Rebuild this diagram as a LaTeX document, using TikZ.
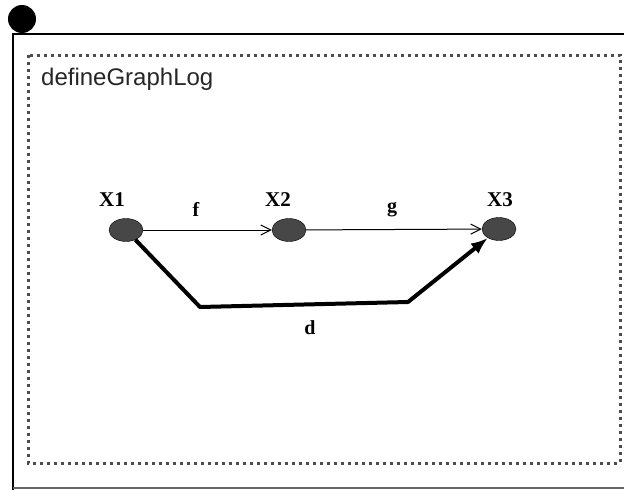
\documentclass[tikz,border=0pt]{standalone}
\usepackage{fontspec}
\setmainfont{Liberation Serif}
\setsansfont{Liberation Sans}
\usetikzlibrary{shapes.geometric,arrows.meta}

\begin{document}
\begin{tikzpicture}[x=1pt,y=-1pt,
 v/.style={draw=black,fill=black!72,ellipse,minimum width=34pt,minimum height=23pt,inner sep=0pt},
 vl/.style={font=\fontsize{21}{21}\selectfont\bfseries,inner sep=0pt},
 el/.style={font=\fontsize{20}{20}\selectfont\bfseries,inner sep=0pt},
 thinarr/.style={line width=1pt,-{Straight Barb[length=10pt,width=10pt]}},
 thickarr/.style={line width=4pt,line join=round,-{Latex[length=17pt,width=13pt]}}]
\useasboundingbox (0,0) rectangle (624,490);
% frame and dotted panel
\draw[line width=2pt] (13,490)--(13,34)--(624,34);
\draw[line width=1.5pt,black!60] (13,488)--(624,488);
\fill[black] (22,19) circle (14);
\draw[line width=3pt,black!70,dash pattern=on 3pt off 4pt] (28,55) rectangle (620,463);
\node[font=\sffamily\fontsize{24}{24}\selectfont,anchor=base west,inner sep=0pt,text=black!85](t) at (41,85){defineGraphLog};
% vertices
\node[v](x1) at (126,230){};
\node[v](x2) at (289,230){};
\node[v](x3) at (499,229){};
\node[vl](l1) at (112,200){X1};
\node[vl](l2) at (278,200){X2};
\node[vl](l3) at (500,200){X3};
% edges
\draw[thinarr](x1)--(x2);\draw[thinarr](x2)--(x3);
\coordinate (dl) at (200,307);\coordinate (dr) at (408,302);
\draw[thickarr](x1)--(dl)--(dr)--(x3);
\node[el](f) at (196,209){f};
\node[el](g) at (392,210){g};
\node[el](d) at (310,328){d};
\end{tikzpicture}
\end{document}
